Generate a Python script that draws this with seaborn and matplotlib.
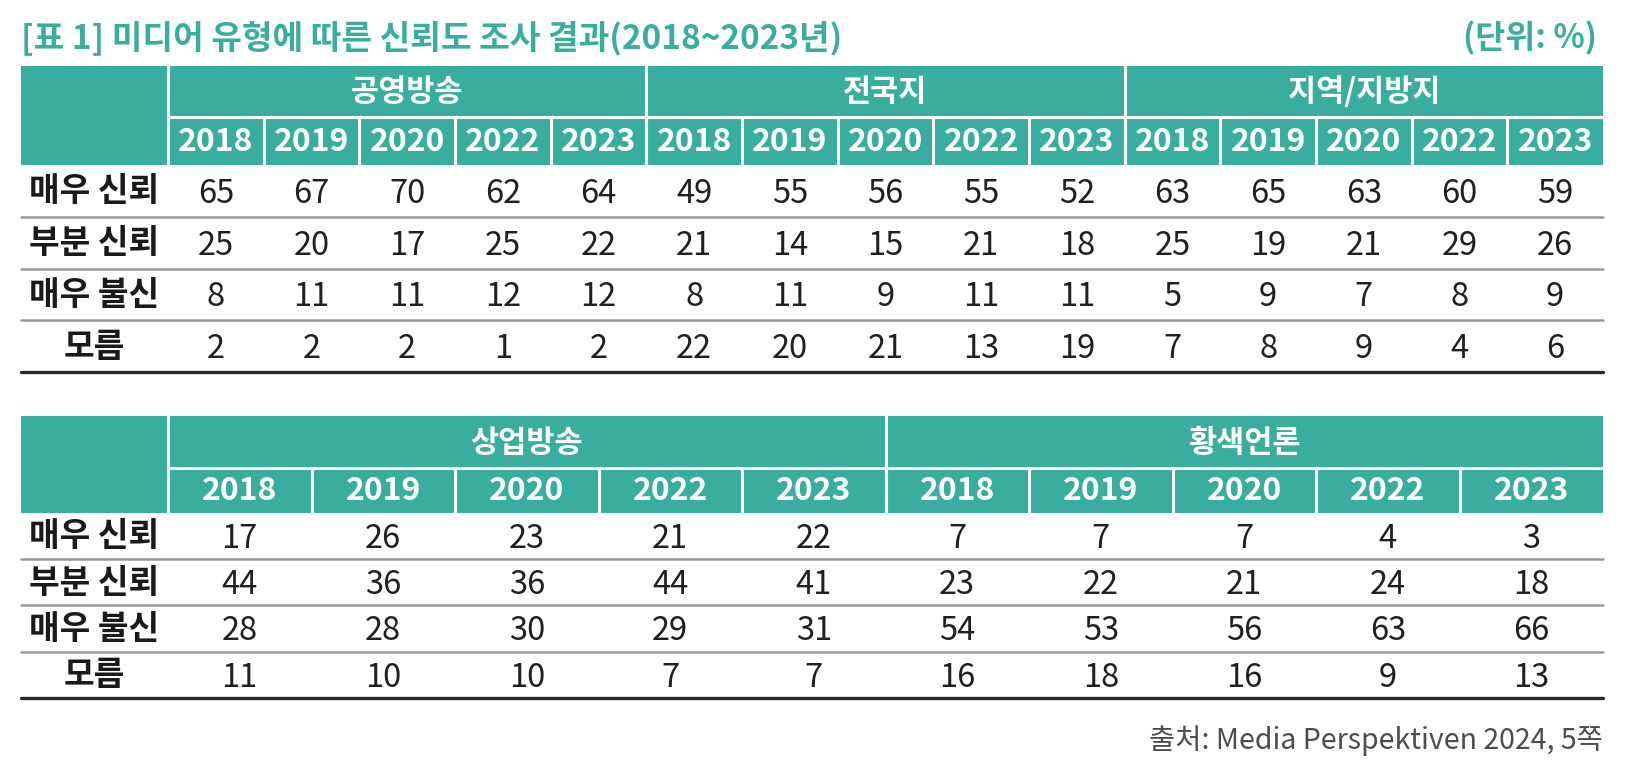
import numpy as np
import pandas as pd
import matplotlib
matplotlib.use('Agg')
import matplotlib.pyplot as plt
import seaborn as sns
from matplotlib.colors import ListedColormap
from matplotlib.patches import Rectangle

# ---------------- data ----------------
title = '[표 1] 미디어 유형에 따른 신뢰도 조사 결과(2018~2023년)'
unit = '(단위: %)'
source = '출처: Media Perspektiven 2024, 5쪽'
categories = ['매우 신뢰', '부분 신뢰', '매우 불신', '모름']
years = ['2018', '2019', '2020', '2022', '2023']

groups1 = ['공영방송', '전국지', '지역/지방지']
public_tv = [[65, 67, 70, 62, 64], [25, 20, 17, 25, 22], [8, 11, 11, 12, 12], [2, 2, 2, 1, 2]]
national = [[49, 55, 56, 55, 52], [21, 14, 15, 21, 18], [8, 11, 9, 11, 11], [22, 20, 21, 13, 19]]
regional = [[63, 65, 63, 60, 59], [25, 19, 21, 29, 26], [5, 9, 7, 8, 9], [7, 8, 9, 4, 6]]

groups2 = ['상업방송', '황색언론']
commercial = [[17, 26, 23, 21, 22], [44, 36, 36, 44, 41], [28, 28, 30, 29, 31], [11, 10, 10, 7, 7]]
tabloid = [[7, 7, 7, 4, 3], [23, 22, 21, 24, 18], [54, 53, 56, 63, 66], [16, 18, 16, 9, 13]]

# ---------------- style ----------------
sns.set_theme(style='white')
plt.rcParams['font.family'] = ['Noto Sans CJK KR', 'DejaVu Sans']

TEAL = '#39AE9E'
W, H = 1630, 774
L, LAB, R = 21, 168, 1603

fig = plt.figure(figsize=(W / 100, H / 100), dpi=100)
fig.patch.set_facecolor('white')

layouts = [
    (groups1, [public_tv, national, regional], 65.5, 117, 165, 372),
    (groups2, [commercial, tabloid], 416, 468, 512.5, 698),
]

# body cells via seaborn heatmap
for groups, data_list, top, mid, hb, bottom in layouts:
    bax = fig.add_axes([LAB / W, 1 - bottom / H, (R - LAB) / W, (bottom - hb) / H])
    df = pd.DataFrame(np.hstack([np.array(d) for d in data_list]), index=categories,
                      columns=pd.MultiIndex.from_product([groups, years]))
    sns.heatmap(df, ax=bax, annot=True, fmt='d', cmap=ListedColormap(['white']), cbar=False,
                xticklabels=False, yticklabels=False, linewidths=0,
                annot_kws=dict(color='#231F20', fontsize=23.5))
    rh = (bottom - hb) / len(categories)
    for t in bax.texts:
        x, y = t.get_position()
        t.set_position((x, y + 3.0 / rh))
    bax.set_axis_off()

# overlay axes in pixel coordinates
ax = fig.add_axes([0, 0, 1, 1])
ax.patch.set_alpha(0)
ax.set_xlim(0, W)
ax.set_ylim(H, 0)
ax.set_axis_off()

ax.text(L, 38, title, color=TEAL, fontsize=24, fontweight='bold', va='center', ha='left')
ax.text(R - 6, 38, unit, color=TEAL, fontsize=23.5, fontweight='bold', va='center', ha='right')

for groups, data_list, top, mid, hb, bottom in layouts:
    ncols = len(groups) * len(years)
    cw = (R - LAB) / ncols
    ax.add_patch(Rectangle((L, top), R - L, hb - top, facecolor=TEAL, edgecolor='none'))
    # white separators
    ax.plot([LAB, LAB], [top, hb], color='white', lw=2.2)
    ax.plot([LAB, R], [mid, mid], color='white', lw=2.2)
    for g in range(1, len(groups)):
        x = LAB + g * len(years) * cw
        ax.plot([x, x], [top, hb], color='white', lw=2.2)
    for c in range(1, ncols):
        x = LAB + c * cw
        ax.plot([x, x], [mid, hb], color='white', lw=2.2)
    for g, name in enumerate(groups):
        cx = LAB + (g + 0.5) * len(years) * cw
        ax.text(cx, (top + mid) / 2 + 1, name, color='white', fontsize=22, fontweight='bold',
                ha='center', va='center')
    for c in range(ncols):
        cx = LAB + (c + 0.5) * cw
        ax.text(cx, (mid + hb) / 2 + 1, years[c % len(years)], color='white', fontsize=23,
                fontweight='bold', ha='center', va='center')
    rh = (bottom - hb) / len(categories)
    for i, cat in enumerate(categories):
        cy = hb + (i + 0.5) * rh
        ax.text((L + LAB) / 2, cy + 1, cat, color='#1a1a1a', fontsize=24, fontweight='bold',
                ha='center', va='center')
        if i > 0:
            y = hb + i * rh
            ax.plot([L, R], [y, y], color='#999999', lw=1.8)
    ax.plot([L, R], [bottom, bottom], color='#2a2a2a', lw=2.4)

ax.text(R, 741, source, color='#4d4d4d', fontsize=20.5, ha='right', va='center')

fig.savefig('out.png', dpi=100)
